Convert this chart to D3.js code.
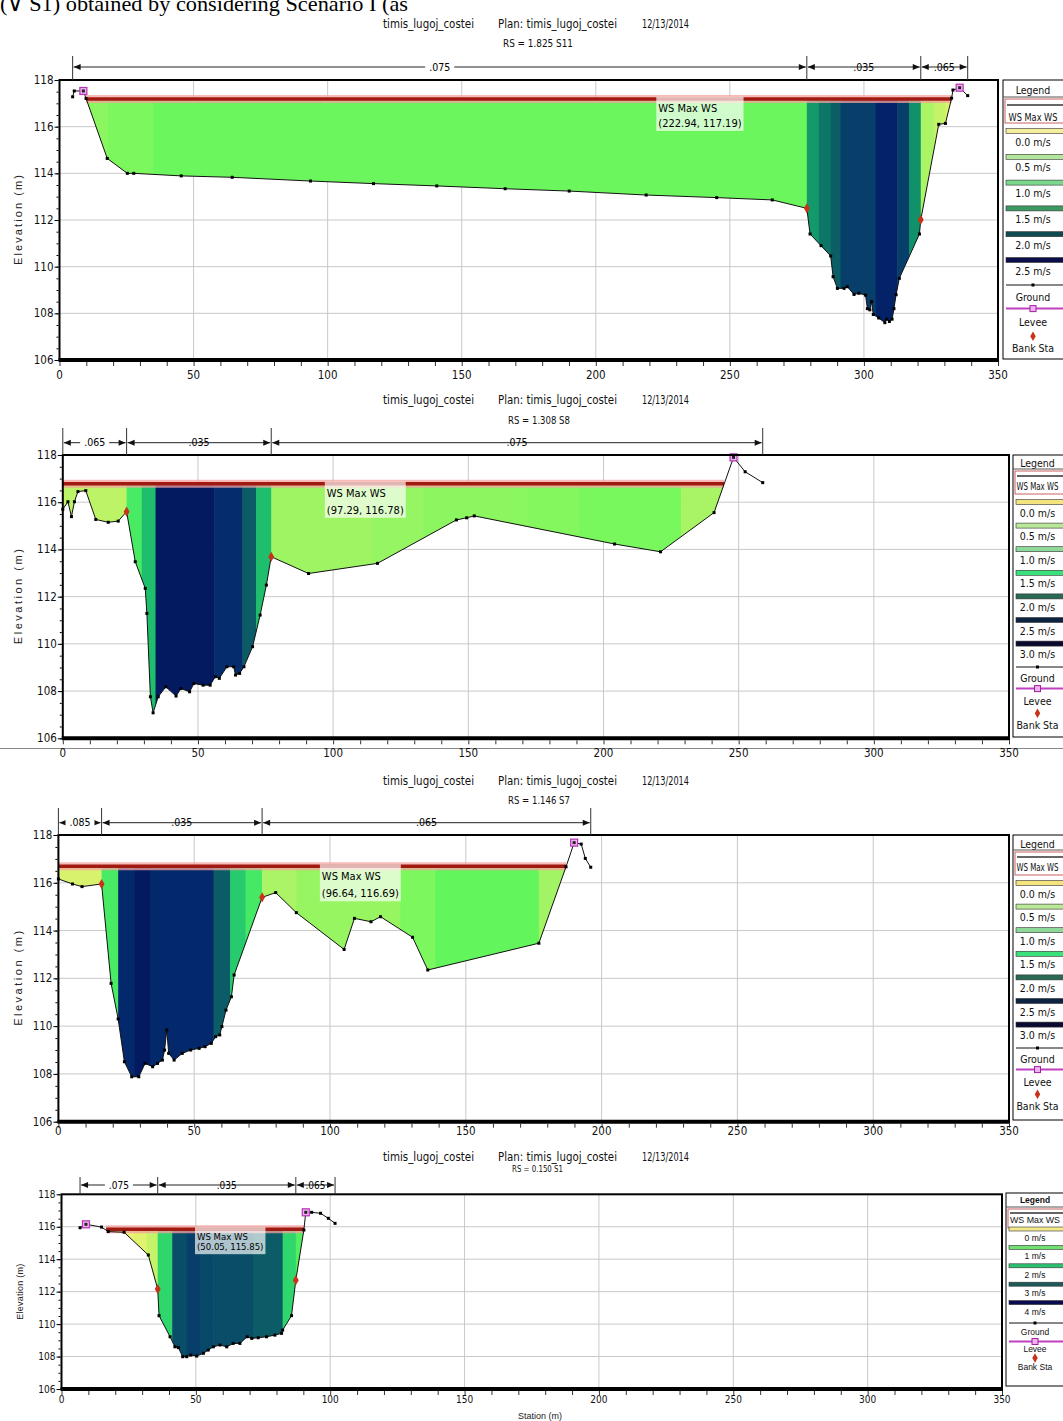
<!DOCTYPE html>
<html><head><meta charset="utf-8">
<script src="https://cdn.jsdelivr.net/npm/d3@7/dist/d3.min.js"></script>
<style>
html,body{margin:0;padding:0;background:#fff;}
svg{display:block;}
.nar{font-family:"Liberation Sans Narrow","Arial Narrow","DejaVu Sans Condensed",sans-serif;}
.ari{font-family:"Liberation Sans",Arial,sans-serif;}
.ser{font-family:"Liberation Serif","Times New Roman",serif;}
</style></head><body>
<svg id="chart" width="1063" height="1421"></svg>
<script>
// ---------------- DATA ----------------
const headerCut = "(\u2228 S1) obtained by considering Scenario I (as";
const titleParts = ["timis_lugoj_costei", "Plan: timis_lugoj_costei", "12/13/2014"];
const rsLabels = ["RS = 1.825  S11", "RS = 1.308  S8", "RS = 1.146  S7", "RS = 0.150  S1"];
const xTickLabels = [0, 50, 100, 150, 200, 250, 300, 350];
const yTickLabels = [106, 108, 110, 112, 114, 116, 118];
const wsElev = [117.19, 116.78, 116.69, 115.85];
const wsLabelStation = [222.94, 97.29, 96.64, 50.05];
const wsExtent = [[9.9, 332.7], [0, 244.6], [0, 186.9], [16.6, 90.25]];

const ground1 = [[4.9,117.28],[5.5,117.53],[8.9,117.53],[9.9,117.21],[17.8,114.64],[25.3,114.0],[27.7,114.0],[45.4,113.89],[64.4,113.83],[93.6,113.67],[117.1,113.56],[140.7,113.46],[166.2,113.34],[190.1,113.24],[218.8,113.07],[245.1,112.96],[265.8,112.86],[278.7,112.5],[279.9,111.4],[284,110.9],[287.6,110.46],[288.5,109.57],[290.1,109.07],[292.6,109.07],[293.8,109.14],[296.3,108.81],[298.1,108.86],[300.6,108.78],[301.3,108.2],[302.2,108.15],[302.8,108.5],[303.5,107.95],[305.5,107.8],[307.8,107.6],[308.5,107.75],[309.5,107.65],[310.5,107.75],[311.2,108.2],[312,108.8],[313.2,109.5],[320.7,111.4],[321.2,112.01],[327.9,116.1],[330.4,116.14],[332.7,117.22],[333.2,117.57],[335.7,117.67],[338.7,117.33]];
const ground2 = [[0,115.7],[1.9,116.02],[3.2,115.39],[4.3,116.02],[5.6,116.45],[8.5,116.49],[12.2,115.27],[16.8,115.15],[20.5,115.2],[23.6,115.6],[26.8,113.48],[30.5,112.35],[31.1,111.29],[32.4,107.76],[33.4,107.08],[35.3,107.76],[38.1,108.18],[41.9,107.79],[43.7,108.11],[46.9,107.97],[48.5,108.32],[51.9,108.25],[54.5,108.25],[56.4,108.61],[57.9,108.54],[60.7,109.03],[63.2,109.03],[63.9,108.68],[65.4,108.75],[67.0,109.03],[70.2,109.88],[73.0,111.22],[75.3,112.49],[77.1,113.69],[90.9,112.98],[116.4,113.41],[145.6,115.25],[149.4,115.34],[152.2,115.42],[204.1,114.23],[221.1,113.9],[240.9,115.56],[248.1,117.9],[252.4,117.29],[258.9,116.83]];
const ground3 = [[0,116.16],[5.2,115.95],[8.7,115.84],[15.9,115.95],[19.4,111.79],[22,110.3],[24.3,108.51],[27,107.88],[29.6,107.88],[31.9,108.44],[34.7,108.3],[36.5,108.44],[38.3,108.58],[39.1,109.0],[39.9,109.84],[40.6,108.86],[42.6,108.58],[45.6,108.86],[48.7,109.0],[51.8,109.07],[54,109.14],[56.3,109.28],[57.9,109.56],[59.4,109.63],[60.2,109.98],[61.7,110.67],[63.7,111.23],[64.7,112.14],[75,115.39],[80,115.59],[87.6,114.75],[105.2,113.21],[109,114.51],[115.1,114.37],[118.6,114.58],[130.4,113.72],[136,112.35],[176.9,113.47],[186.9,116.67],[189.9,117.68],[192.5,117.62],[194,117.02],[196,116.65]];
const ground4 = [[6.9,115.94],[9.1,116.15],[14.9,115.98],[17.4,115.7],[23.3,115.66],[32.3,114.26],[35.8,112.16],[36.3,110.52],[40.4,109.22],[42.2,108.6],[43.5,108.55],[45.1,107.99],[46.6,107.99],[48.1,108.09],[50.3,108.03],[52.8,108.2],[54.6,108.4],[56.5,108.6],[59,108.71],[61.5,108.6],[63.9,108.81],[66.4,108.81],[69.1,109.22],[70.8,109.12],[73.2,109.16],[76.3,109.22],[79.4,109.32],[81.9,109.43],[82.3,109.63],[85.6,110.52],[87.2,112.71],[90.2,115.8],[90.9,116.89],[93.1,116.89],[96.4,116.83],[99.3,116.52],[101.8,116.21]];

const banks1 = [278.7, 321.2];
const banks2 = [23.6, 77.1];
const banks3 = [15.9, 75];
const banks4 = [35.8, 87.2];

const levees1 = [[8.9,117.53],[335.7,117.67]];
const levees2 = [[248.1,117.9]];
const levees3 = [[189.9,117.68]];
const levees4 = [[9.1,116.15],[90.9,116.89]];

const nBreaks1 = [4.9, 278.7, 321.2, 338.7];
const nBreaks2 = [0, 23.6, 77.1, 258.9];
const nBreaks3 = [0, 15.9, 75, 196];
const nBreaks4 = [6.9, 35.8, 87.2, 101.8];
const nValues1 = [".075", ".035", ".065"];
const nValues2 = [".065", ".035", ".075"];
const nValues3 = [".085", ".035", ".065"];
const nValues4 = [".075", ".035", ".065"];

// velocity strips [from station, to station, velocity m/s]
const vel1 = [[9.9,17.8,0.72],[17.8,35,0.8],[35,278.7,0.9],[278.7,283.2,1.55],[283.2,287.6,1.78],[287.6,291.3,1.98],[291.3,304.4,2.3],[304.4,312.4,2.7],[312.4,316.8,2.3],[316.8,321.2,1.6],[321.2,326,0.55],[326,330.4,0.4],[330.4,332.7,0.25]];
const vel2 = [[0,23.6,0.45],[23.6,29.2,1.1],[29.2,34.3,1.35],[34.3,56,2.85],[56,66.4,2.55],[66.4,71.5,2.0],[71.5,77.1,1.35],[77.1,114.5,0.62],[114.5,133.4,0.67],[133.4,172,0.72],[172,190.9,0.76],[190.9,228.7,0.82],[228.7,244.6,0.56]];
const vel3 = [[0,15.9,0.25],[15.9,22,1.1],[22,28.1,2.6],[28.1,33.7,2.85],[33.7,57.1,2.6],[57.1,63.2,2.0],[63.2,68.9,1.3],[68.9,75,1.12],[75,87.6,0.55],[87.6,125.8,0.66],[125.8,138.8,0.8],[138.8,176.9,0.96],[176.9,186.9,0.6]];
const vel4 = [[16.6,26.7,0.05],[26.7,31.7,0.2],[31.7,35.8,0.4],[35.8,41.2,1.25],[41.2,46.6,2.15],[46.6,51.5,2.3],[51.5,56.5,2.2],[56.5,71.4,2.15],[71.4,82.3,2.0],[82.3,87.2,1.25],[87.2,90.25,1.05]];

const velDomain = [0, 0.2, 0.4, 0.6, 0.8, 1.0, 1.2, 1.4, 1.7, 2.0, 2.3, 2.6, 3.0];
const velColors = ["#F4F07A","#E0F26E","#C4F268","#A2F464","#7CF85E","#5CF45C","#36E26C","#18B26C","#0E8068","#0B5C66","#073E6A","#04286C","#021258"];

const legLabels1 = ["0.0 m/s","0.5 m/s","1.0 m/s","1.5 m/s","2.0 m/s","2.5 m/s"];
const legColors1 = ["#F4EE9C","#B2E69A","#7CD98C","#3A9A62","#0E4A4E","#0A0E4A"];
const legLabels2 = ["0.0 m/s","0.5 m/s","1.0 m/s","1.5 m/s","2.0 m/s","2.5 m/s","3.0 m/s"];
const legColors2 = ["#F4E47E","#B8E898","#8ED89A","#3AE07A","#2A6A55","#0C2442","#0A0A30"];
const legLabels3 = ["0.0 m/s","0.5 m/s","1.0 m/s","1.5 m/s","2.0 m/s","2.5 m/s","3.0 m/s"];
const legColors3 = ["#F4E47E","#B8E898","#8ED89A","#3AE07A","#2A6A55","#0C2442","#0A0A30"];
const legLabels4 = ["0 m/s","1 m/s","2 m/s","3 m/s","4 m/s"];
const legColors4 = ["#F2E88C","#70E070","#2CC070","#1C5A5A","#0A0C50"];
const legSymbols = ["Ground", "Levee", "Bank Sta"];

// ---------------- LAYOUT ----------------
const layouts = [
 {left:59.5,right:998,top:80,bottom:360,titleY:28,rsY:47,rsX:503,rsW:70,rsFs:10.5,bracketY:67,tickTop:56,xLabY:375,elevX:18,elevLen:90,fs:11.5,tFs:12.5,wsOff:[13,28],wsFs:11,
  leg:{x:1003,y:80,w:64,h:279,cx:1033,hY:90,sep:97,pb:[99,123],dl:105,wsY:117,wsW:49,ls:142,lst:25.8,sw:[13.5,5],ss:297,sst:25.6,so:[12,14,12],fs:10.5,bold:false,cls:"nar"}},
 {left:62.8,right:1009,top:455,bottom:738.3,titleY:404,rsY:424,rsX:508,rsW:62,rsFs:10.5,bracketY:442.7,tickTop:428,xLabY:753,elevX:18,elevLen:95,fs:11.5,tFs:12.5,wsOff:[13,30],wsFs:11,
  leg:{x:1013,y:455,w:54,h:282,cx:1037.5,hY:463,sep:469,pb:[471,494],dl:476,wsY:486,wsW:42,ls:513,lst:23.6,sw:[13.5,5],ss:678,sst:23.6,so:[11,13,12],fs:10.5,bold:false,cls:"nar"}},
 {left:58.4,right:1009,top:835,bottom:1121.7,titleY:785,rsY:804,rsX:508,rsW:62,rsFs:10.5,bracketY:822.7,tickTop:808,xLabY:1131,elevX:18,elevLen:95,fs:11.5,tFs:12.5,wsOff:[14,31],wsFs:11,
  leg:{x:1013,y:835,w:54,h:285,cx:1037.5,hY:844,sep:850,pb:[852,875],dl:857,wsY:867,wsW:42,ls:894,lst:23.6,sw:[13.5,5],ss:1059,sst:23.6,so:[11,13,12],fs:10.5,bold:false,cls:"nar"}},
 {left:61.5,right:1002,top:1194.3,bottom:1389,titleY:1161,rsY:1171.5,rsX:512,rsW:51,rsFs:8.5,bracketY:1185,tickTop:1177,xLabY:1399,elevX:20,elevLen:56,fs:10,tFs:12,wsOff:[11,21],wsFs:9.5,
  leg:{x:1006,y:1193,w:62,h:193,cx:1035,hY:1200,sep:1207,pb:[1209,1228],dl:1213,wsY:1220,wsW:50,ls:1238,lst:18.4,sw:[11,4],ss:1332,sst:17.5,so:[9,8,9],fs:8.5,bold:true,cls:"ari"}}
];

const panels = [
 {ground:ground1,banks:banks1,levees:levees1,nb:nBreaks1,nv:nValues1,vel:vel1,legL:legLabels1,legC:legColors1},
 {ground:ground2,banks:banks2,levees:levees2,nb:nBreaks2,nv:nValues2,vel:vel2,legL:legLabels2,legC:legColors2},
 {ground:ground3,banks:banks3,levees:levees3,nb:nBreaks3,nv:nValues3,vel:vel3,legL:legLabels3,legC:legColors3},
 {ground:ground4,banks:banks4,levees:levees4,nb:nBreaks4,nv:nValues4,vel:vel4,legL:legLabels4,legC:legColors4}
];

const svg = d3.select("#chart");
const velColor = d3.scaleLinear().domain(velDomain).range(velColors);

function elevAt(g, s){
  for(let i=0;i<g.length-1;i++){
    if(s>=g[i][0] && s<=g[i+1][0]){
      const t=(s-g[i][0])/((g[i+1][0]-g[i][0])||1);
      return g[i][1]+t*(g[i+1][1]-g[i][1]);
    }
  }
  return s<g[0][0]?g[0][1]:g[g.length-1][1];
}

// header fragment (cut off at top, as in the source page)
svg.append("text").attr("class","ser").attr("x",0).attr("y",11).attr("font-size",22)
  .attr("textLength",408).attr("lengthAdjust","spacingAndGlyphs").text(headerCut);

// separator line between screenshots
svg.append("line").attr("x1",0).attr("x2",1063).attr("y1",748.5).attr("y2",748.5).attr("stroke","#888").attr("stroke-width",1);

panels.forEach((p,i)=>{
  const L = layouts[i];
  const ws = wsElev[i];
  const x = d3.scaleLinear().domain([0,350]).range([L.left,L.right]);
  const y = d3.scaleLinear().domain([106,118]).range([L.bottom,L.top]);
  const g = svg.append("g");

  // titles
  const tx = [383,498,642], tw=[91,119,47];
  titleParts.forEach((t,k)=>{
    g.append("text").attr("class","nar").attr("x",tx[k]).attr("y",L.titleY).attr("font-size",L.tFs)
      .attr("textLength",tw[k]).attr("lengthAdjust","spacingAndGlyphs").attr("fill","#111").text(t);
  });
  g.append("text").attr("class","nar").attr("x",L.rsX).attr("y",L.rsY).attr("font-size",L.rsFs)
    .attr("textLength",L.rsW).attr("lengthAdjust","spacingAndGlyphs").attr("fill","#111").text(rsLabels[i]);

  // grid
  g.append("g").selectAll("line").data(xTickLabels.filter(d=>d>0&&d<350)).join("line")
    .attr("x1",d=>x(d)).attr("x2",d=>x(d)).attr("y1",L.top).attr("y2",L.bottom).attr("stroke","#c9c9c9");
  g.append("g").selectAll("line").data(yTickLabels.filter(d=>d>106&&d<118)).join("line")
    .attr("x1",L.left).attr("x2",L.right).attr("y1",d=>y(d)).attr("y2",d=>y(d)).attr("stroke","#c9c9c9");

  // water area clip
  const [lo,hi] = wsExtent[i];
  const pts = [[lo,elevAt(p.ground,lo)]].concat(p.ground.filter(d=>d[0]>lo&&d[0]<hi)).concat([[hi,elevAt(p.ground,hi)]]);
  const area = d3.area().x(d=>x(d[0])).y0(y(ws)).y1(d=>y(Math.min(d[1],ws)));
  const cid = "wclip"+i;
  g.append("clipPath").attr("id",cid).append("path").attr("d",area(pts));
  g.append("g").attr("clip-path",`url(#${cid})`).selectAll("rect").data(p.vel).join("rect")
    .attr("x",d=>x(d[0])).attr("width",d=>x(d[1])-x(d[0])+0.6)
    .attr("y",L.top).attr("height",L.bottom-L.top).attr("fill",d=>velColor(d[2]));

  // WS line
  g.append("line").attr("x1",x(lo)).attr("x2",x(hi)).attr("y1",y(ws)).attr("y2",y(ws))
    .attr("stroke","#F5A3A0").attr("stroke-width",8).attr("opacity",0.75);
  g.append("line").attr("x1",x(lo)).attr("x2",x(hi)).attr("y1",y(ws)).attr("y2",y(ws))
    .attr("stroke","#A01A12").attr("stroke-width",3.5);

  // ground line + markers
  g.append("path").datum(p.ground).attr("d",d3.line().x(d=>x(d[0])).y(d=>y(d[1])))
    .attr("fill","none").attr("stroke","#111").attr("stroke-width",1);
  g.append("g").selectAll("rect").data(p.ground).join("rect")
    .attr("x",d=>x(d[0])-1.5).attr("y",d=>y(d[1])-1.5).attr("width",3).attr("height",3).attr("fill","#000");

  // bank stations
  g.append("g").selectAll("path").data(p.banks).join("path")
    .attr("transform",d=>`translate(${x(d)},${y(elevAt(p.ground,d))})`)
    .attr("d",d3.symbol(d3.symbolDiamond,30)).attr("fill","#C8321A");

  // levees
  g.append("g").selectAll("rect").data(p.levees).join("rect")
    .attr("x",d=>x(d[0])-3.5).attr("y",d=>y(d[1])-3.5).attr("width",7).attr("height",7)
    .attr("fill","#EFB0EF").attr("stroke","#B434B4").attr("stroke-width",1.2);
  g.append("g").selectAll("rect").data(p.levees).join("rect")
    .attr("x",d=>x(d[0])-1.5).attr("y",d=>y(d[1])-1.5).attr("width",3).attr("height",3).attr("fill","#222");

  // WS label
  const lx = x(wsLabelStation[i]);
  const lab = g.append("g");
  const t1 = lab.append("text").attr("class","nar").attr("x",lx+1).attr("y",y(ws)+L.wsOff[0]).attr("font-size",L.wsFs).text("WS Max WS");
  const t2 = lab.append("text").attr("class","nar").attr("x",lx+1).attr("y",y(ws)+L.wsOff[1]).attr("font-size",L.wsFs)
    .text(`(${wsLabelStation[i].toFixed(2)}, ${ws.toFixed(2)})`);
  const w = Math.max(t1.node().getComputedTextLength(), t2.node().getComputedTextLength());
  lab.insert("rect","text").attr("x",lx-1).attr("y",y(ws)-2).attr("width",w+4).attr("height",L.wsOff[1]+6)
    .attr("fill","#fff").attr("opacity",0.68);

  // frame
  g.append("rect").attr("x",L.left).attr("y",L.top).attr("width",L.right-L.left).attr("height",L.bottom-L.top)
    .attr("fill","none").attr("stroke","#000").attr("stroke-width",2);
  g.append("line").attr("x1",L.left-1).attr("x2",L.right+1).attr("y1",L.bottom).attr("y2",L.bottom)
    .attr("stroke","#000").attr("stroke-width",4);

  // x axis ticks
  const xa = g.append("g").attr("transform",`translate(0,${L.bottom+2})`)
    .call(d3.axisBottom(x).tickValues(d3.range(0,351,10)).tickSize(4).tickFormat(""));
  xa.select(".domain").remove();
  xa.selectAll("line").attr("stroke","#333");
  g.append("g").selectAll("text").data(xTickLabels).join("text").attr("class","nar")
    .attr("x",d=>x(d)).attr("y",L.xLabY).attr("dy","0.35em").attr("text-anchor","middle")
    .attr("font-size",L.fs).attr("fill","#111").text(d=>d);

  // y axis ticks
  const ya = g.append("g").attr("transform",`translate(${L.left-1},0)`)
    .call(d3.axisLeft(y).tickValues(d3.range(106,118.01,0.5)).tickSize(2).tickFormat(""));
  ya.select(".domain").remove();
  const ya2 = g.append("g").attr("transform",`translate(${L.left-1},0)`)
    .call(d3.axisLeft(y).tickValues(yTickLabels).tickSize(4).tickFormat(""));
  ya2.select(".domain").remove();
  g.append("g").selectAll("text").data(yTickLabels).join("text").attr("class","nar")
    .attr("x",L.left-6).attr("y",d=>y(d)).attr("dy","0.35em").attr("text-anchor","end")
    .attr("font-size",L.fs).attr("fill","#111").text(d=>d);

  // elevation label
  const ym = (L.top+L.bottom)/2;
  g.append("text").attr("class","ari").attr("transform",`translate(${L.elevX},${ym}) rotate(-90)`)
    .attr("text-anchor","middle").attr("dy","0.35em").attr("font-size",i===3?9:11)
    .attr("textLength",L.elevLen).attr("lengthAdjust","spacing").attr("fill","#222").text("Elevation (m)");

  // Manning's n brackets
  const by = L.bracketY;
  const br = g.append("g");
  br.selectAll("line.tk").data(p.nb).join("line").attr("class","tk")
    .attr("x1",d=>x(d)).attr("x2",d=>x(d)).attr("y1",L.tickTop).attr("y2",L.top).attr("stroke","#333").attr("stroke-width",1);
  p.nv.forEach((v,k)=>{
    const a=x(p.nb[k])+1, b=x(p.nb[k+1])-1, m=(a+b)/2;
    br.append("line").attr("x1",a).attr("x2",b).attr("y1",by).attr("y2",by).attr("stroke","#222");
    br.append("path").attr("d",`M${a},${by}L${a+7},${by-3}L${a+7},${by+3}Z`).attr("fill","#111");
    br.append("path").attr("d",`M${b},${by}L${b-7},${by-3}L${b-7},${by+3}Z`).attr("fill","#111");
    const tt = br.append("text").attr("class","nar").attr("x",m).attr("y",by).attr("dy","0.35em")
      .attr("text-anchor","middle").attr("font-size",i===3?10:10.5).text(v);
    const tlw = tt.node().getComputedTextLength();
    br.insert("rect","text").attr("x",m-tlw/2-4).attr("y",by-5).attr("width",tlw+8).attr("height",10).attr("fill","#fff");
  });

  // legend
  const G = L.leg;
  const lg = g.append("g").attr("class",G.cls).attr("font-size",G.fs).attr("fill","#111");
  lg.append("rect").attr("x",G.x).attr("y",G.y).attr("width",G.w).attr("height",G.h).attr("fill","#fff").attr("stroke","#000");
  lg.append("text").attr("x",G.cx).attr("y",G.hY).attr("dy","0.35em").attr("text-anchor","middle")
    .attr("font-weight",G.bold?"bold":"normal").text("Legend");
  lg.append("line").attr("x1",G.x).attr("x2",G.x+G.w).attr("y1",G.sep).attr("y2",G.sep).attr("stroke","#555");
  lg.append("rect").attr("x",G.x+2).attr("y",G.pb[0]).attr("width",G.w-4).attr("height",G.pb[1]-G.pb[0])
    .attr("fill","#fff").attr("stroke","#C86060").attr("stroke-width",1);
  lg.append("line").attr("x1",G.x+4).attr("x2",G.x+G.w-4).attr("y1",G.dl).attr("y2",G.dl).attr("stroke","#333").attr("stroke-width",1.5);
  lg.append("text").attr("x",G.cx).attr("y",G.wsY).attr("dy","0.35em").attr("text-anchor","middle")
    .attr("textLength",G.wsW).attr("lengthAdjust","spacingAndGlyphs").text("WS Max WS");
  p.legL.forEach((lbl,k)=>{
    const ly = G.ls + k*G.lst;
    lg.append("rect").attr("x",G.x+3).attr("y",ly-G.sw[0]).attr("width",G.w-6).attr("height",G.sw[1])
      .attr("fill",p.legC[k]).attr("stroke","#333").attr("stroke-width",0.6);
    lg.append("text").attr("x",G.cx).attr("y",ly).attr("dy","0.35em").attr("text-anchor","middle").text(lbl);
  });
  legSymbols.forEach((lbl,k)=>{
    const ly = G.ss + k*G.sst;
    const sy = ly - G.so[k];
    lg.append("text").attr("x",G.cx).attr("y",ly).attr("dy","0.35em").attr("text-anchor","middle").text(lbl);
    if(k===0){
      lg.append("line").attr("x1",G.x+3).attr("x2",G.x+G.w-3).attr("y1",sy).attr("y2",sy).attr("stroke","#111");
      lg.append("rect").attr("x",G.cx-1.5).attr("y",sy-1.5).attr("width",3).attr("height",3).attr("fill","#000");
    } else if(k===1){
      lg.append("line").attr("x1",G.x+3).attr("x2",G.x+G.w-3).attr("y1",sy).attr("y2",sy).attr("stroke","#C040C0").attr("stroke-width",2);
      lg.append("rect").attr("x",G.cx-3).attr("y",sy-3).attr("width",6).attr("height",6).attr("fill","#EFB0EF").attr("stroke","#A020A0");
    } else {
      lg.append("path").attr("transform",`translate(${G.cx},${sy})`).attr("d",d3.symbol(d3.symbolDiamond,26)).attr("fill","#C8321A");
    }
  });
});

// bottom x-axis title
svg.append("text").attr("class","ari").attr("x",540).attr("y",1416).attr("dy","0.35em").attr("text-anchor","middle")
  .attr("font-size",9).attr("fill","#222").text("Station (m)");
</script>
</body></html>
